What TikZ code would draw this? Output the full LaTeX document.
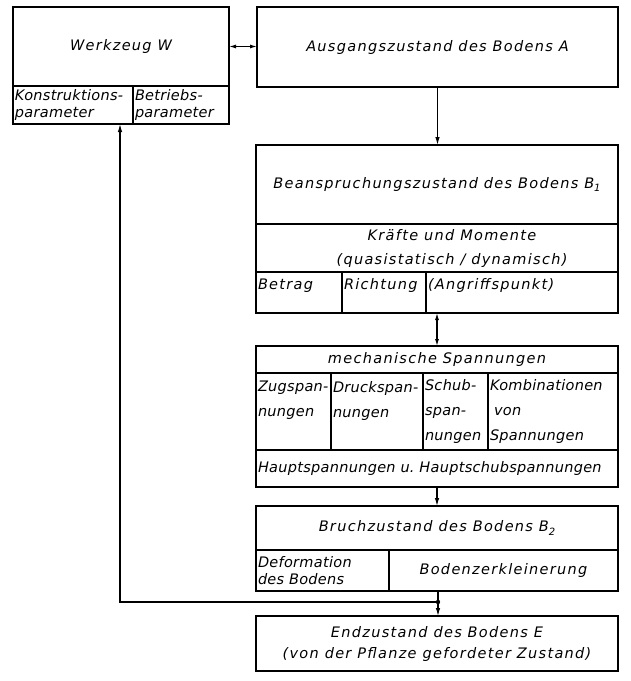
\documentclass[tikz,border=0pt]{standalone}
\usepackage{fontspec}
\newfontfamily\dinfont[LetterSpace=9]{DejaVu Sans}
\newfontfamily\dinnarrow[LetterSpace=2]{DejaVu Sans}
\usetikzlibrary{positioning, arrows.meta}
\newcommand{\idx}[1]{\raisebox{-0.4ex}{\fontsize{10}{10}\selectfont #1}}

\begin{document}
\begin{tikzpicture}[x=1pt, y=-1pt, line width=1.1pt,
    font=\dinfont\itshape\fontsize{14.5}{17}\selectfont,
    cell/.style={draw, rectangle, inner sep=2pt, outer sep=0pt, anchor=north west},
    lcell/.style={cell, align=left, text width=#1-4pt},
    tight/.style={font=\dinnarrow\itshape\fontsize{14.5}{17}\selectfont},
    wide/.style={font=\dinnarrow\itshape\fontsize{14.5}{25}\selectfont},
    tip/.style={-{Latex[length=8pt, width=4.5pt]}},
    both/.style={{Latex[length=7pt, width=4pt]}-{Latex[length=7pt, width=4pt]}}]
    \useasboundingbox (0,0) rectangle (631,681);
    % Werkzeug
    \node[cell, minimum width=216pt, minimum height=79pt] (w) at (13,7) {Werkzeug W};
    \node[lcell=120pt, minimum width=120pt, minimum height=38pt, tight] (wk) [below=0pt of w.south west, anchor=north west] {\mbox{Konstruktions-}\\parameter};
    \node[lcell=96pt, minimum width=96pt, minimum height=38pt, tight] (wb) [right=0pt of wk.north east, anchor=north west] {\mbox{Betriebs-}\\parameter};
    % Ausgangszustand
    \node[cell, minimum width=361pt, minimum height=80pt] (a) at (257,7) {Ausgangszustand des Bodens A};
    % Beanspruchungszustand
    \node[cell, minimum width=362pt, minimum height=79pt] (b1) at (256,145) {Beanspruchungszustand des Bodens B\idx{1}};
    \node[cell, minimum width=362pt, minimum height=48pt, align=center, font=\dinfont\itshape\fontsize{14.5}{24}\selectfont] (kr) [below=0pt of b1.south west, anchor=north west] {\hspace*{30pt}Kräfte und Momente\\\hspace*{30pt}(quasistatisch / dynamisch)};
    \node[lcell=86pt, minimum width=86pt, minimum height=41pt] (bt) [below=0pt of kr.south west, anchor=north west] {Betrag\\\mbox{}};
    \node[lcell=84pt, minimum width=84pt, minimum height=41pt] (ri) [right=0pt of bt.north east, anchor=north west] {Richtung\\\mbox{}};
    \node[lcell=192pt, minimum width=192pt, minimum height=41pt] (an) [right=0pt of ri.north east, anchor=north west] {(Angriffspunkt)\\\mbox{}};
    % Spannungen
    \node[cell, minimum width=362pt, minimum height=27pt] (me) at (256,346) {mechanische Spannungen};
    \node[lcell=75pt, minimum width=75pt, minimum height=77pt, wide] (zu) [below=0pt of me.south west, anchor=north west] {\mbox{Zugspan-}\\nungen\\\mbox{}};
    \node[lcell=92pt, minimum width=92pt, minimum height=77pt, wide] (dr) [right=0pt of zu.north east, anchor=north west] {\mbox{Druckspan-}\\nungen\\\mbox{}};
    \node[lcell=65pt, minimum width=65pt, minimum height=77pt, wide] (sc) [right=0pt of dr.north east, anchor=north west] {\mbox{Schub-}\\\mbox{span-}\\nungen};
    \node[lcell=130pt, minimum width=130pt, minimum height=77pt, wide] (ko) [right=0pt of sc.north east, anchor=north west] {\mbox{Kombinationen}\\\hspace*{4pt}von\\Spannungen};
    \node[lcell=362pt, minimum width=362pt, minimum height=37pt, tight] (hs) [below=0pt of zu.south west, anchor=north west] {Hauptspannungen u.\ Hauptschubspannungen};
    % Bruchzustand
    \node[cell, minimum width=362pt, minimum height=44pt] (br) at (256,506) {Bruchzustand des Bodens B\idx{2}};
    \node[lcell=133pt, minimum width=133pt, minimum height=41pt, tight] (de) [below=0pt of br.south west, anchor=north west] {Deformation\\des Bodens};
    \node[cell, minimum width=229pt, minimum height=41pt] (bz) [right=0pt of de.north east, anchor=north west] {Bodenzerkleinerung};
    % Endzustand
    \node[cell, minimum width=362pt, minimum height=55pt, align=center, font=\dinfont\itshape\fontsize{14.5}{21}\selectfont] (e) at (256,616) {Endzustand des Bodens E\\(von der Pflanze gefordeter Zustand)};
    \coordinate (bo) at ([xshift=49pt]bz.south west);
    \coordinate (j) at ([yshift=-11pt]bo);

    \draw[both] (w.east) -- (w.east -| a.west);
    \draw[tip] (a.south) -- (a.south |- b1.north);
    \draw[both] (me.north |- an.south) -- (me.north);
    \draw[tip] (hs.south) -- (br.north);
    \draw[tip] (bo) -- (bo |- e.north);
    \fill (j) circle (2.2pt);
    \draw[tip] (j) -| ([xshift=-13pt]wk.south east);
\end{tikzpicture}
\end{document}
